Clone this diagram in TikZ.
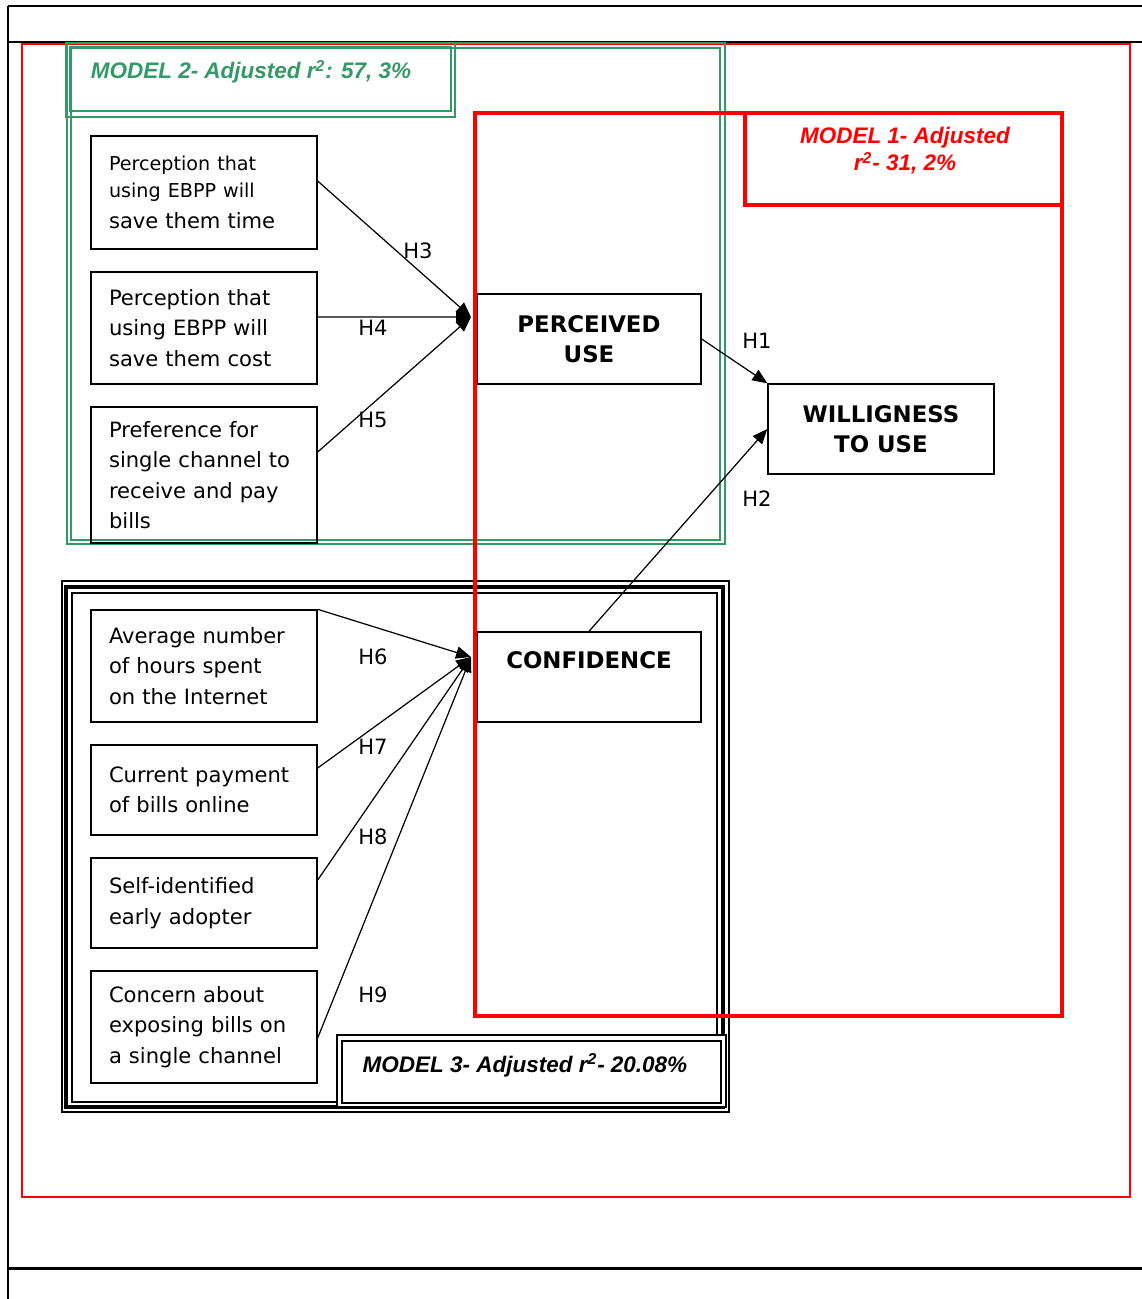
\documentclass[tikz,border=0pt]{standalone}
\usepackage{fontspec}
\setmainfont{DejaVu Sans}
\newfontfamily\arialfont{Liberation Sans}
\usepackage{tikz}
\usetikzlibrary{arrows.meta}
\definecolor{seagreen}{RGB}{51,153,102}
\newcommand{\boxfont}{\fontsize{12}{17.3}\selectfont}
\newcommand{\smallboxfont}{\fontsize{10.9}{15.4}\selectfont}
\newcommand{\capfont}{\fontsize{13}{17.3}\selectfont\bfseries}
\newcommand{\modelfont}{\arialfont\fontsize{12.8}{15.3}\selectfont\bfseries\itshape}
\tikzstyle{factor}=[draw=black,line width=0.8pt,text width=3.8cm,inner xsep=0.36cm,inner ysep=0pt,align=left,font=\boxfont]
\tikzstyle{construct}=[draw=black,line width=0.8pt,minimum width=4.48cm,minimum height=1.8cm,inner sep=0pt,align=center,font=\capfont]
\tikzstyle{hyp}=[-{Triangle[length=8.5pt,width=7pt]},line width=0.7pt]
\tikzstyle{hlabel}=[inner sep=0pt,font=\boxfont]
\tikzstyle{frame}=[line width=1.1pt]
\tikzstyle{redthin}=[draw=red,line width=1pt]
\tikzstyle{redthick}=[draw=red,line width=2.3pt]
\tikzstyle{greenline}=[draw=seagreen,line width=1.2pt]
\tikzstyle{blackthin}=[draw=black,line width=1pt]
\tikzstyle{blackthick}=[draw=black,line width=1.8pt]

\begin{document}
\begin{tikzpicture}[x=0.02cm,y=-0.02cm]
      \useasboundingbox (0,0) rectangle (1142,1299);
      \draw[frame] (8,6) -- (1142,6);
      \draw[frame] (8,42) -- (1142,42);
      \draw[frame,line width=1.7pt] (8,1268) -- (1142,1268);
      \draw[frame] (8,6) -- (8,1299);
      \draw[redthin] (22,44) rectangle (1130,1197);

      \draw[greenline] (67,43) rectangle (725,544);
      \draw[greenline] (71,48) rectangle (720,540);
      \draw[greenline] (66,43) rectangle (455,117);
      \draw[greenline] (70,47) rectangle (451,111);
      \node[font=\modelfont,text=seagreen,inner sep=0pt] (m2) at (251,72) {MODEL 2- Adjusted r\textsuperscript{2}: 57, 3\%};

      \draw[blackthin] (62,581) rectangle (729,1112);
      \draw[blackthick] (66,587) rectangle (723,1107);
      \draw[blackthin] (72,593) rectangle (717,1102);

      \node[factor, minimum height=2.26cm] at (204,192.5) (ta) {\smallboxfont Perception that\\using EBPP will\\\boxfont save them time};
      \node[factor, minimum height=2.24cm] at (204,328) (tb) {Perception that\\using EBPP will\\save them cost};
      \node[factor, minimum height=2.72cm] at (204,475) (tc) {Preference for\\single channel to\\receive and pay\\bills};
      \node[factor, minimum height=2.24cm] at (204,666) (hd) {Average number\\of hours spent\\on the Internet};
      \node[factor, minimum height=1.8cm] at (204,790) (hp) {Current payment\\of bills online};
      \node[factor, minimum height=1.8cm] at (204,903) (hs) {Self-identified\\early adopter};
      \node[factor, minimum height=2.24cm] at (204,1027) (hc) {Concern about\\exposing bills on\\a single channel};

      \node[construct] at (589,339) (pu) {PERCEIVED\\USE};
      \node[construct] at (589,677) (conf) {CONFIDENCE\\[2pt]\phantom{X}};
      \node[construct, minimum width=4.52cm] at (881,429) (wtu) {WILLIGNESS\\TO USE};

      \draw[redthick] (475,113) rectangle (1062,1016);
      \draw[redthick] (745,113) rectangle (1062,205);
      \node[font=\modelfont,text=red,align=center,inner sep=0pt] (m1) at (905,151) {MODEL 1- Adjusted\\r\textsuperscript{2}- 31, 2\%};

      \coordinate (puin) at (471,317);
      \coordinate (confin) at (471,657);
      \draw[hyp] ([yshift=0.23cm]ta.east) -- (puin);
      \draw[hyp] ([yshift=0.22cm]tb.east) -- (puin);
      \draw[hyp] ([yshift=0.46cm]tc.east) -- (puin);
      \draw[hyp] (hd.north east) -- (confin);
      \draw[hyp] ([yshift=0.44cm]hp.east) -- (confin);
      \draw[hyp] ([yshift=0.46cm]hs.east) -- (confin);
      \draw[hyp] ([yshift=-0.22cm]hc.east) -- (confin);
      \draw[hyp] (pu.east) -- (wtu.north west);
      \draw[hyp] (conf.north) -- (wtu.west);

      \node[hlabel] at (757,341) (l1) {H1};
      \node[hlabel] at (757,499) (l2) {H2};
      \node[hlabel] at (418,251) (l3) {H3};
      \node[hlabel] at (373,328) (l4) {H4};
      \node[hlabel] at (373,420) (l5) {H5};
      \node[hlabel] at (373,657) (l6) {H6};
      \node[hlabel] at (373,747) (l7) {H7};
      \node[hlabel] at (373,837) (l8) {H8};
      \node[hlabel] at (373,995) (l9) {H9};

      \draw[blackthin, line width=1.3pt, fill=white] (337,1035) rectangle (726,1107);
      \draw[blackthin, line width=1.3pt] (342,1041) rectangle (721,1103);
      \node[font=\modelfont,inner sep=0pt] (m3) at (525,1065) {MODEL 3- Adjusted r\textsuperscript{2}- 20.08\%};
    \end{tikzpicture}
\end{document}
